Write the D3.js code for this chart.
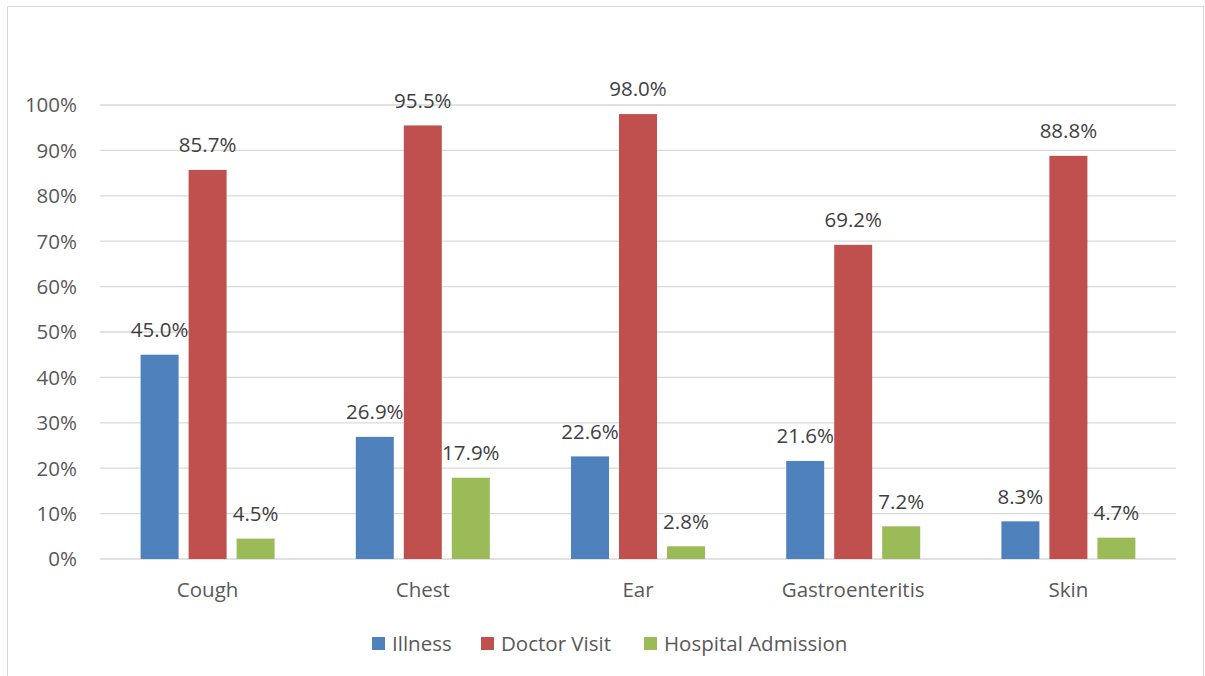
<!DOCTYPE html>
<html><head><meta charset="utf-8">
<script src="https://cdn.jsdelivr.net/npm/d3@7"></script>
<style>body{margin:0;background:#fff}svg{display:block}</style>
</head><body><svg id="c" width="1205" height="676"></svg>
<script>
const categories = ["Cough","Chest","Ear","Gastroenteritis","Skin"];
const seriesNames = ["Illness","Doctor Visit","Hospital Admission"];
const illness = [45.0,26.9,22.6,21.6,8.3];
const doctorVisit = [85.7,95.5,98.0,69.2,88.8];
const hospitalAdmission = [4.5,17.9,2.8,7.2,4.7];
const yTicks = [0,10,20,30,40,50,60,70,80,90,100];
const colors = ["#4f81bd","#c0504d","#9bbb59"];
const series = [illness, doctorVisit, hospitalAdmission];

const svg = d3.select("#c");
const font = "'Open Sans', 'Liberation Sans', sans-serif";
const fs = 20.5;
svg.append("rect").attr("x",7.5).attr("y",6.5).attr("width",1196).attr("height",680)
  .attr("fill","#fff").attr("stroke","#d9d9d9");

const x0 = d3.scaleBand().domain(categories).range([100,1176]);
const y = d3.scaleLinear().domain([0,100]).range([559,105]);

svg.append("g").selectAll("line").data(yTicks).join("line")
  .attr("x1",100).attr("x2",1176).attr("y1",d=>y(d)).attr("y2",d=>y(d))
  .attr("stroke","#d9d9d9").attr("stroke-width",1.3);

svg.append("g").selectAll("text").data(yTicks).join("text")
  .attr("x",77).attr("y",d=>y(d)).attr("dy","0.36em").attr("text-anchor","end")
  .attr("font-family",font).attr("font-size",fs).attr("fill","#595959")
  .text(d=>d+"%");

const barW = 38, step = 48;
const g = svg.append("g");
series.forEach((vals,si)=>{
  categories.forEach((c,ci)=>{
    const cx = x0(c)+x0.bandwidth()/2 + (si-1)*step;
    g.append("rect").attr("x",cx-barW/2).attr("width",barW)
      .attr("y",y(vals[ci])).attr("height",y(0)-y(vals[ci])).attr("fill",colors[si]);
    g.append("text").attr("x",cx).attr("y",y(vals[ci])-25).attr("dy","0.36em")
      .attr("text-anchor","middle").attr("font-family",font).attr("font-size",fs)
      .attr("fill","#404040").text(vals[ci].toFixed(1)+"%");
  });
});

svg.append("g").selectAll("text").data(categories).join("text")
  .attr("x",d=>x0(d)+x0.bandwidth()/2).attr("y",590).attr("dy","0.36em")
  .attr("text-anchor","middle").attr("font-family",font).attr("font-size",fs)
  .attr("fill","#595959").text(d=>d);

const legX = [372,481,644];
const leg = svg.append("g");
seriesNames.forEach((n,i)=>{
  leg.append("rect").attr("x",legX[i]).attr("y",637).attr("width",13).attr("height",13).attr("fill",colors[i]);
  leg.append("text").attr("x",legX[i]+20).attr("y",644).attr("dy","0.36em")
    .attr("font-family",font).attr("font-size",fs).attr("fill","#595959").text(n);
});
</script></body></html>
